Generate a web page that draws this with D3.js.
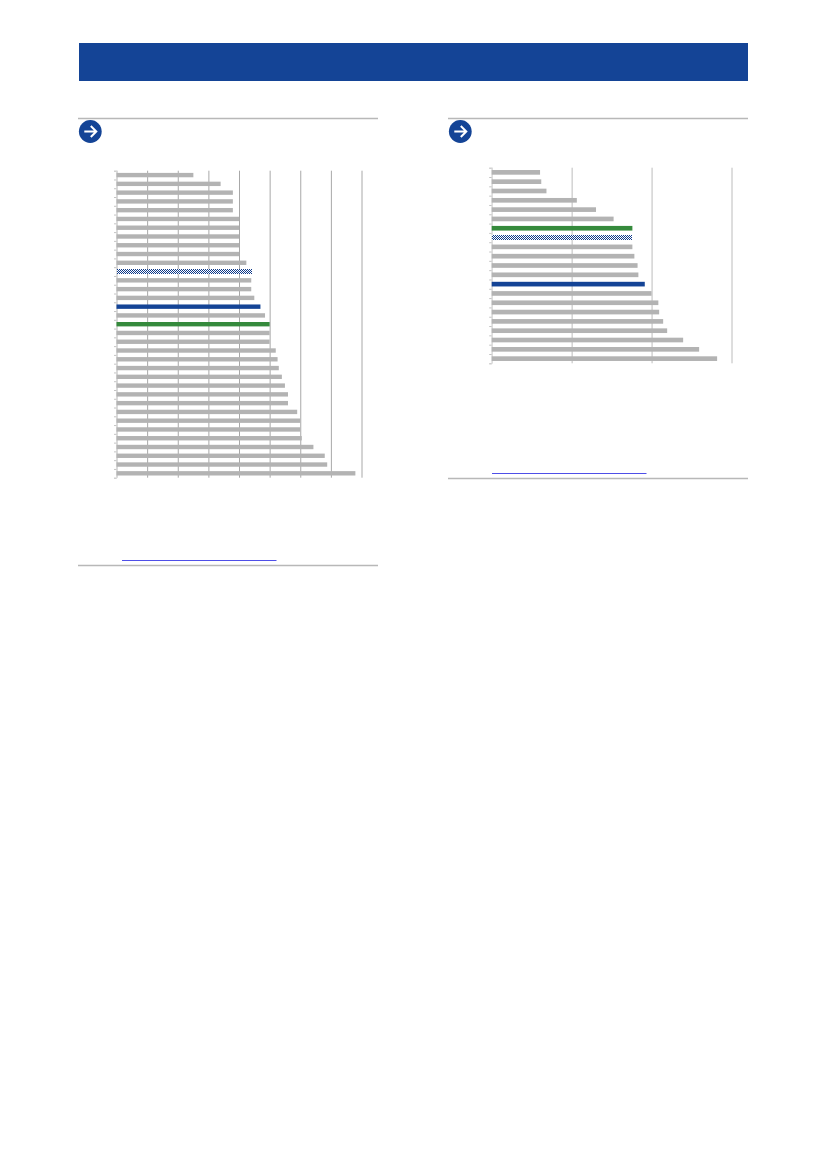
<!DOCTYPE html>
<html>
<head>
<meta charset="utf-8">
<script src="https://cdn.jsdelivr.net/npm/d3@7"></script>
<style>
html,body{margin:0;padding:0;background:#fff;}
svg{display:block;}
</style>
</head>
<body>
<div class="canvas"></div>
<script>
//values, top bar first
const leftValues = [25.1,34,38,38,38,40,40,40,40,40,42.4,44.1,44,44,45,47,48.5,50,50,50,52,52.6,53,54,55,56,56,59,60,60,60.5,64.3,68,68.8,78];
const leftKinds = leftValues.map((d,i)=> i==11 ? 'hatch' : i==15 ? 'blue' : i==17 ? 'green' : 'grey');
const leftTicks = [0,10,20,30,40,50,60,70,80];

const rightValues = [12.1,12.4,13.7,21.3,26.1,30.5,35.2,35.2,35.2,35.7,36.5,36.7,38.3,40,41.7,41.9,42.9,43.9,47.9,51.9,56.4];
const rightKinds = rightValues.map((d,i)=> i==6 ? 'green' : i==7 ? 'hatch' : i==12 ? 'blue' : 'grey');
const rightTicks = [0,20,40,60];

const colors = {grey:'#b3b3b3',blue:'#144496',green:'#358a3c'};

const svg = d3.select('.canvas')
.append('svg')
    .attr('width', 826)
    .attr('height',1169);

svg.append('rect').attr('width',826).attr('height',1169).attr('fill','#fff');

const defs = svg.append('defs');

//header band
svg.append('rect')
    .attr('x',79)
    .attr('y',43)
    .attr('width',669)
    .attr('height',38)
    .attr('fill','#144496');

const drawPanel = (panel)=>{
    const g = svg.append('g');

    //checker for the hatched bar, shifted so it lands on whole pixels
    const pattern = defs.append('pattern')
        .attr('id',panel.id)
        .attr('width',2)
        .attr('height',2)
        .attr('patternUnits','userSpaceOnUse')
        .attr('patternTransform',`translate(${Math.ceil(panel.x0)-panel.x0},${Math.ceil(panel.y0)-panel.y0})`);
    pattern.append('rect').attr('width',2).attr('height',2).attr('fill','#fff');
    pattern.append('rect').attr('width',1).attr('height',1).attr('fill','#0f3a8a');
    pattern.append('rect').attr('x',1).attr('y',1).attr('width',1).attr('height',1).attr('fill','#0f3a8a');

    //rules
    [panel.top,panel.bottom].forEach(y=>{
        g.append('line')
            .attr('x1',panel.ruleX).attr('x2',panel.ruleX+300)
            .attr('y1',y).attr('y2',y)
            .attr('stroke','#b8b8b8')
            .attr('stroke-width',1.4);
    });

    //arrow badge
    const badge = g.append('g')
        .attr('transform',`translate(${panel.ruleX+12.3},${panel.top+13})`);
    badge.append('circle').attr('r',11.4).attr('fill','#144496');
    badge.append('path')
        .attr('d','M-6,0H5.5M0.5,-5.5L6,0L0.5,5.5')
        .attr('fill','none')
        .attr('stroke','#fff')
        .attr('stroke-width',2);

    //link underline
    g.append('line')
        .attr('x1',panel.linkX).attr('x2',panel.linkX+154.5)
        .attr('y1',panel.bottom-5).attr('y2',panel.bottom-5)
        .attr('stroke','#4f4fe8')
        .attr('stroke-width',1);

    const graphWidth = panel.x1-panel.x0;
    const graphHeight = panel.y1-panel.y0;
    const graph = g.append('g')
        .attr('transform',`translate(${panel.x0},${panel.y0})`);

    const x = d3.scaleLinear()
        .domain([0,d3.max(panel.ticks)])
        .range([0,graphWidth]);
    const y = d3.scaleBand()
        .domain(d3.range(panel.values.length))
        .range([0,graphHeight])
        .paddingInner(0.5)
        .paddingOuter(0.25);
    const edges = d3.scaleLinear()
        .domain([0,panel.values.length])
        .range([0,graphHeight]);

    //grid, drawn by the bottom axis
    const xAxis = d3.axisBottom(x)
        .tickValues(panel.ticks)
        .tickSize(-graphHeight)
        .tickFormat('');
    const xAxisGroup = graph.append('g')
        .attr('transform',`translate(0,${graphHeight})`)
        .call(xAxis);
    xAxisGroup.select('.domain').remove();
    xAxisGroup.selectAll('line').attr('stroke',panel.grid);

    const yAxis = d3.axisLeft(edges)
        .tickValues(d3.range(panel.values.length+1))
        .tickSize(2.5)
        .tickFormat('');
    const yAxisGroup = graph.append('g').call(yAxis);
    yAxisGroup.select('.domain').attr('stroke','#e2e2e2');
    yAxisGroup.selectAll('line').attr('stroke','#c4c4c4');

    graph.selectAll('.bar')
        .data(panel.values)
        .enter()
        .append('rect')
        .attr('class','bar')
        .attr('x',0)
        .attr('y',(d,i)=>y(i))
        .attr('width',d=>x(d))
        .attr('height',y.bandwidth())
        .attr('shape-rendering',(d,i)=>panel.kinds[i]=='hatch' ? 'crispEdges' : null)
        .attr('fill',(d,i)=>panel.kinds[i]=='hatch' ? `url(#${panel.id})` : colors[panel.kinds[i]]);
};

drawPanel({
    id:'checkLeft',values:leftValues,kinds:leftKinds,ticks:leftTicks,
    x0:116.5,x1:361.5,y0:170.7,y1:477.7,
    ruleX:78,top:118.5,bottom:565.5,linkX:122,grid:'#a8a8a8'
});
drawPanel({
    id:'checkRight',values:rightValues,kinds:rightKinds,ticks:rightTicks,
    x0:491.7,x1:731.5,y0:167.7,y1:363.3,
    ruleX:448,top:118.5,bottom:478.5,linkX:492,grid:'#bcbcbc'
});
</script>
</body>
</html>
